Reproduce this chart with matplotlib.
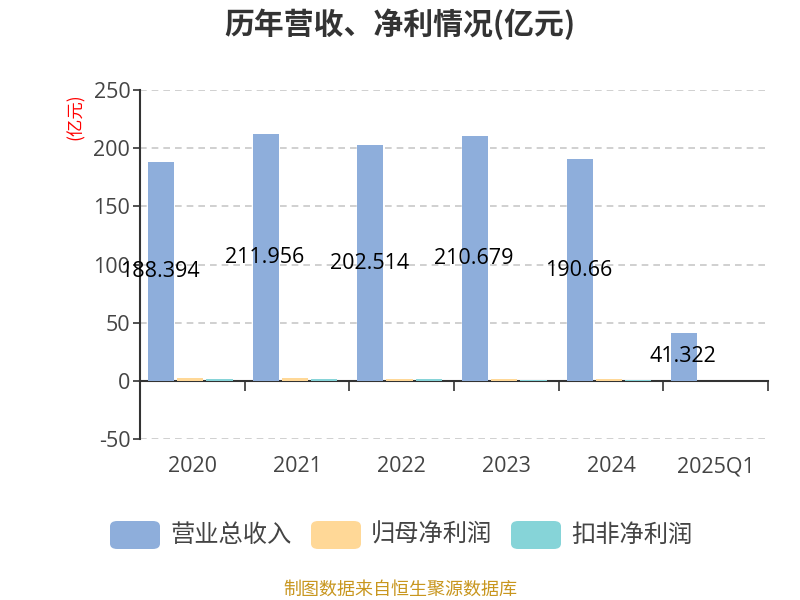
import matplotlib
matplotlib.use("Agg")
import matplotlib.pyplot as plt
import numpy as np
from matplotlib.patches import FancyBboxPatch

plt.rcParams['font.family'] = ['Open Sans', 'Noto Sans CJK SC', 'DejaVu Sans']
CJK = ['Noto Sans CJK SC', 'DejaVu Sans']

categories = ["2020", "2021", "2022", "2023", "2024", "2025Q1"]
revenue = [188.394, 211.956, 202.514, 210.679, 190.66, 41.322]
net_profit = [2.3, 2.6, 2.0, 2.0, 1.5, 0.3]
deduct_profit = [1.5, 2.0, 1.7, 0.8, 0.7, 0.2]
series_names = ["营业总收入", "归母净利润", "扣非净利润"]
colors = ["#8eaedb", "#ffd897", "#86d4d8"]
yticks = [-50, 0, 50, 100, 150, 200, 250]

fig = plt.figure(figsize=(8, 6), dpi=100)
ax = fig.add_axes([0.175, 0.268, 0.785, 0.582])

x = np.arange(len(categories))
w = 0.25
offs = [-0.28, 0.0, 0.28]
for vals, off, c in zip([revenue, net_profit, deduct_profit], offs, colors):
    ax.bar(x + off - 0.02, vals, width=w, color=c, zorder=3)

for xi, v in zip(x, revenue):
    ax.text(xi - 0.31, v / 2, f"{v:g}", ha='center', va='center', fontsize=15.5,
            color='black', zorder=5)

ax.set_xlim(-0.5, len(categories) - 0.5)
ax.set_ylim(-50, 250)
ax.set_yticks(yticks)
ax.set_yticklabels([str(t) for t in yticks])
ax.tick_params(axis='y', length=5, width=1.2, color='#333333', pad=2,
               labelsize=15.5, labelcolor='#444444')
ax.grid(axis='y', linestyle=(0, (4, 3)), color='#c8c8c8', linewidth=1.2, zorder=0)

ax.set_xticks(np.arange(len(categories) + 1) - 0.5, minor=True)
ax.set_xticks(x)
ax.set_xticklabels(categories)
ax.tick_params(axis='x', which='major', length=0, pad=54, labelsize=15.5,
               labelcolor='#444444')
ax.tick_params(axis='x', which='minor', length=7, width=1.2, color='#333333',
               direction='out')

for s in ['top', 'right']:
    ax.spines[s].set_visible(False)
ax.spines['bottom'].set_position(('data', 0))
ax.spines['bottom'].set_color('#333333')
ax.spines['bottom'].set_linewidth(1.5)
ax.spines['left'].set_color('#333333')
ax.spines['left'].set_linewidth(1.5)

fig.text(0.5, 1 - 24 / 600, "历年营收、净利情况(亿元)", ha='center', va='center',
         fontsize=21.5, fontweight='bold', color='#333333', family=CJK)
fig.text(76 / 800, 1 - 117 / 600, "(亿元)", rotation=90, ha='center', va='center',
         fontsize=12.5, color='red', family=CJK)

# legend
leg_y = 1 - 535 / 600
items = [(110, 170, series_names[0]), (311, 371, series_names[1]), (511, 571, series_names[2])]
for (px, tx, name), c in zip(items, colors):
    box = FancyBboxPatch((px / 800, leg_y - 14 / 600), 50 / 800, 28 / 600,
                         boxstyle="round,pad=0,rounding_size=0.009",
                         transform=fig.transFigure, facecolor=c, edgecolor='none')
    fig.patches.append(box)
    fig.text(tx / 800, leg_y, name, ha='left', va='center', fontsize=17.5,
             color='#444444', family=CJK)

fig.text(0.5, 1 - 590 / 600, "制图数据来自恒生聚源数据库", ha='center', va='center',
         fontsize=13, color='#c8961e', family=CJK)

fig.savefig("out.png", dpi=100)
